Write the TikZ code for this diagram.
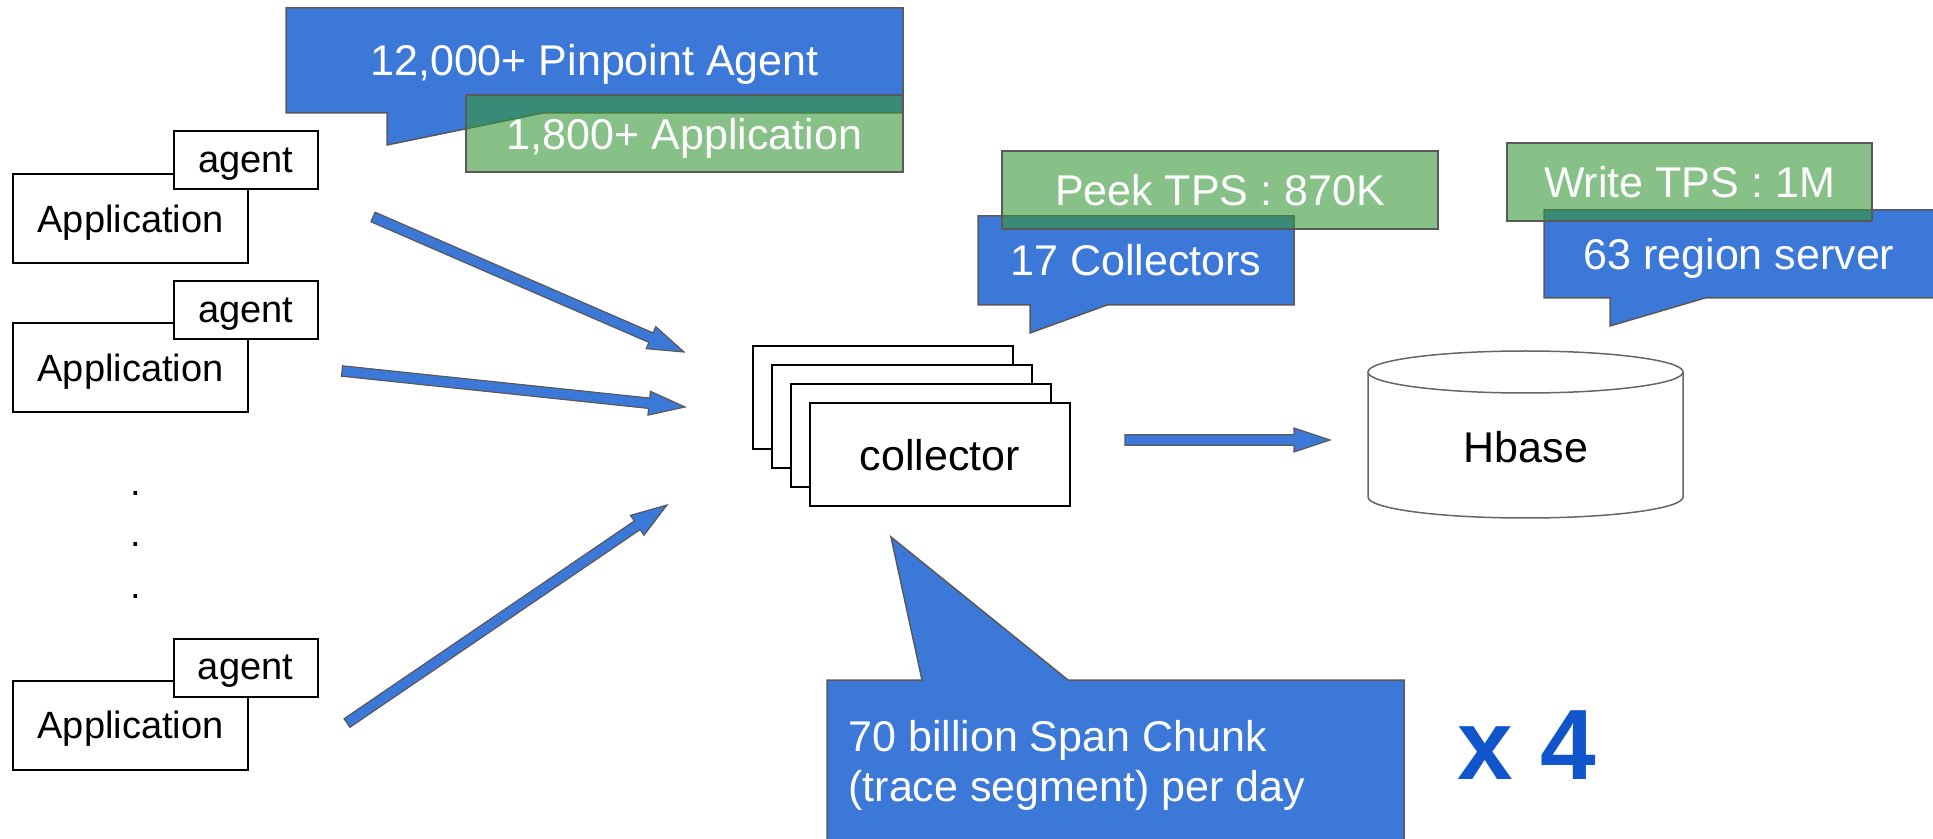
\documentclass[tikz,border=0pt]{standalone}
\usepackage{fontspec}
\setmainfont{Liberation Sans}
\usepackage{tikz}
\usetikzlibrary{calc}
\definecolor{color_callout}{HTML}{3c78d8}
\definecolor{color_tps}{RGB}{55,152,55}
\definecolor{color_edge}{HTML}{595959}
\definecolor{color_db}{HTML}{666666}
\definecolor{color_times}{HTML}{1155cc}

% block arrow from #1 to #2
\newcommand{\blockarrow}[2]{%
  \draw[blockarrow] let \p1=($(#2)-(#1)$), \n1={atan2(\y1,\x1)}, \n2={veclen(\x1,\y1)} in
    [shift={(#1)}, rotate=\n1] (0pt,2.6pt) -- (\n2-18pt,2.6pt) -- (\n2-18pt,6pt) -- (\n2,0pt)
    -- (\n2-18pt,-6pt) -- (\n2-18pt,-2.6pt) -- (0pt,-2.6pt) -- cycle;}

\begin{document}
\begin{tikzpicture}[x=0.5pt, y=-0.5pt]
  \tikzset{ % Specifications for style of nodes:
      base/.style = {rectangle, draw=black, line width=1pt, fill=white, inner sep=0pt, text depth=0pt, font=\fontsize{19}{23}\selectfont},
      appbox/.style = {base, minimum width=117.5pt, minimum height=44.5pt},
      agentbox/.style = {base, minimum width=72pt, minimum height=29pt},
      collbox/.style = {base, minimum width=130pt, minimum height=51.5pt, font=\fontsize{21.5}{26}\selectfont},
      callout/.style = {fill=color_callout, draw=color_edge, line width=0.75pt},
      calltext/.style = {text=white, inner sep=0pt, font=\fontsize{21.5}{25}\selectfont},
      tps/.style = {calltext, fill=color_tps, fill opacity=0.6, text opacity=1, draw=color_edge, line width=0.75pt},
      blockarrow/.style = {fill=color_callout, draw=color_edge, line width=0.6pt},
      dbshape/.style = {fill=white, draw=color_db, line width=0.75pt},
  }
  \useasboundingbox (0,0) rectangle (1933,839);

  % applications with their agents
  \node (app1) [appbox] at (130.5,218.5) {Application};
  \node (agent1) [agentbox] at (246,160) {agent};
  \node (app2) [appbox] at (130.5,368) {Application};
  \node (agent2) [agentbox] at (246,310) {agent};
  \node (app3) [appbox] at (130.5,725) {Application};
  \node (agent3) [agentbox] at (245.5,667.5) {agent};
  \foreach \y in {493,544,596}
    \node (dot\y) [inner sep=0pt, font=\fontsize{19}{23}\selectfont] at (136,\y) {.};

  % collectors
  \foreach \i in {0,1,2}
    \node (coll\i) [collbox] at ({883+19*\i},{397.5+19*\i}) {};
  \node (collector) [collbox] at (940,454.5) {collector};

  % hbase
  \draw[dbshape] (1368,372) -- (1368,497) arc[start angle=180, end angle=360, x radius=78.75pt, y radius=10.5pt] -- (1683,372);
  \draw[dbshape] (1525.5,372) ellipse [x radius=78.75pt, y radius=10.5pt];
  \node (hbase) [font=\fontsize{21.5}{26}\selectfont] at (1526,447) {Hbase};

  % arrows
  \coordinate (a1s) at (373,217);   \coordinate (a1e) at (684,352);
  \coordinate (a2s) at (342,371);   \coordinate (a2e) at (685,407);
  \coordinate (a3s) at (347,723);   \coordinate (a3e) at (667,505);
  \coordinate (a4s) at (1125,440);  \coordinate (a4e) at (1330,440);
  \blockarrow{a1s}{a1e}
  \blockarrow{a2s}{a2e}
  \blockarrow{a3s}{a3e}
  \blockarrow{a4s}{a4e}

  % callouts
  \draw[callout] (286,8) -- (903,8) -- (903,113) -- (543,113) -- (387,145) -- (387,113) -- (286,113) -- cycle;
  \node (agents) [calltext] at (594.5,64) {12,000+ Pinpoint Agent};
  \node (apps) [tps, minimum width=218.5pt, minimum height=38.5pt, text depth=0pt] at (684.5,133.5) {1,800+ Application};

  \draw[callout] (978,216) -- (1294,216) -- (1294,305) -- (1107,305) -- (1030,333) -- (1030,305) -- (978,305) -- cycle;
  \node (collectors) [calltext] at (1136,260.5) {17 Collectors};
  \node (peek) [tps, minimum width=218pt, minimum height=39pt] at (1220,190) {Peek TPS : 870K};

  \draw[callout] (1544,210) -- (1945,210) -- (1945,298) -- (1705,298) -- (1610,326) -- (1610,298) -- (1544,298) -- cycle;
  \node (regions) [calltext] at (1739,258) {63 region server};
  \node (write) [tps, minimum width=182.5pt, minimum height=39pt] at (1689.5,182) {Write TPS : 1M};

  \draw[callout] (827,850) -- (827,680) -- (922,680) -- (891,537) -- (1068,680) -- (1404,680) -- (1404,850) -- cycle;
  \node (chunk) [calltext, align=left, anchor=west] at (848,765) {70 billion Span Chunk\\(trace segment) per day};
  \node (times) [text=color_times, font=\fontsize{50}{60}\selectfont\bfseries] at (1527,745) {x 4};
\end{tikzpicture}
\end{document}
